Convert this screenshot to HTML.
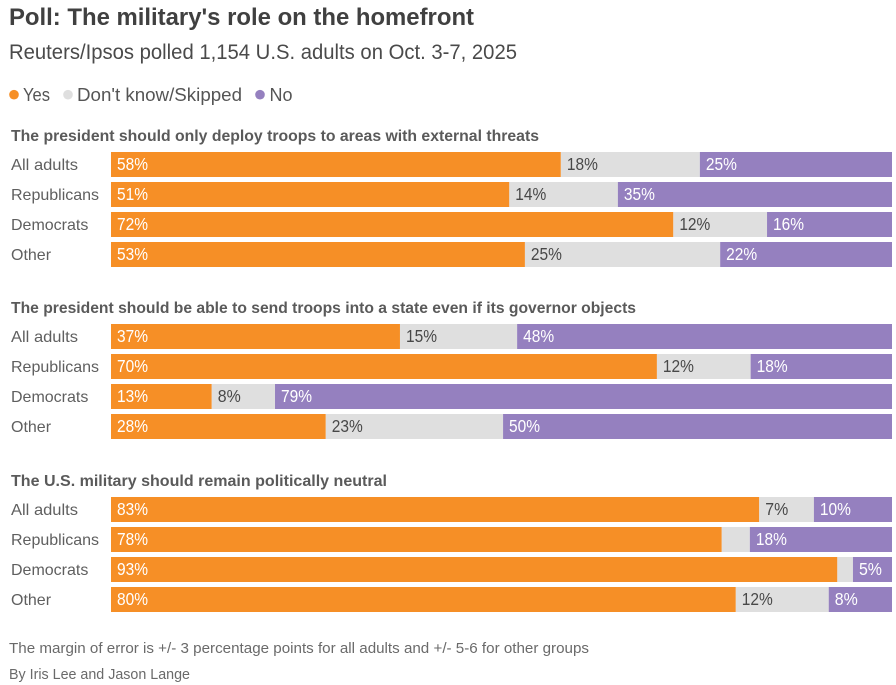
<!DOCTYPE html>
<html lang="en">
<head>
<meta charset="utf-8">
<title>Poll: The military's role on the homefront</title>
<style>
  html, body { margin: 0; padding: 0; background: #fff; }
  body { width: 896px; height: 685px; overflow: hidden; }
  svg { display: block; font-family: "Liberation Sans", sans-serif; }
</style>
</head>
<body>
<svg id="chart" width="896" height="685" viewBox="0 0 896 685" xmlns="http://www.w3.org/2000/svg">
  <text x="9" y="25" font-size="24" font-weight="700" fill="#404040" textLength="465" lengthAdjust="spacingAndGlyphs">Poll: The military's role on the homefront</text>
  <text x="9" y="59" font-size="21" fill="#4a4a4a" textLength="508" lengthAdjust="spacingAndGlyphs">Reuters/Ipsos polled 1,154 U.S. adults on Oct. 3-7, 2025</text>

  <g>
    <circle cx="14" cy="94.7" r="4.8" fill="#f68f26"></circle>
    <text x="23" y="101" font-size="18" fill="#555555" textLength="27" lengthAdjust="spacingAndGlyphs">Yes</text>
    <circle cx="68" cy="94.7" r="4.8" fill="#dfdfdf"></circle>
    <text x="77" y="101" font-size="18" fill="#555555" textLength="165" lengthAdjust="spacingAndGlyphs">Don't know/Skipped</text>
    <circle cx="260" cy="94.7" r="4.8" fill="#9580bf"></circle>
    <text x="269.5" y="101" font-size="18" fill="#555555" textLength="23" lengthAdjust="spacingAndGlyphs">No</text>
  </g>

  <text x="11" y="141" font-size="16" font-weight="700" fill="#5a5a5a" textLength="528" lengthAdjust="spacingAndGlyphs">The president should only deploy troops to areas with external threats</text>
  <text x="11" y="313" font-size="16" font-weight="700" fill="#5a5a5a" textLength="625" lengthAdjust="spacingAndGlyphs">The president should be able to send troops into a state even if its governor objects</text>
  <text x="11" y="486" font-size="16" font-weight="700" fill="#5a5a5a" textLength="376" lengthAdjust="spacingAndGlyphs">The U.S. military should remain politically neutral</text>

  <g id="bars"></g>

  <text x="9" y="653" font-size="14.5" fill="#6a6a6a" textLength="580" lengthAdjust="spacingAndGlyphs">The margin of error is +/- 3 percentage points for all adults and +/- 5-6 for other groups</text>
  <text x="9" y="679" font-size="14.5" fill="#6a6a6a" textLength="181" lengthAdjust="spacingAndGlyphs">By Iris Lee and Jason Lange</text>
</svg>
<script>
// Chart data (percent of respondents)
const categories = ['All adults', 'Republicans', 'Democrats', 'Other'];
const yesExternalThreats = [57.6, 51.0, 72.0, 53.0];
const dontKnowExternalThreats = [17.8, 13.9, 12.0, 25.0];
const noExternalThreats = [24.6, 35.1, 16.0, 22.0];
const yesGovernorObjects = [37.0, 69.9, 12.9, 27.5];
const dontKnowGovernorObjects = [15.0, 12.0, 8.1, 22.7];
const noGovernorObjects = [48.0, 18.1, 79.0, 49.8];
const yesPoliticallyNeutral = [83.0, 78.2, 93.0, 80.0];
const dontKnowPoliticallyNeutral = [7.0, 3.6, 2.0, 11.9];
const noPoliticallyNeutral = [10.0, 18.2, 5.0, 8.1];

const SVG_NS = 'http://www.w3.org/2000/svg';
const plotLeft = 111;
const plotWidth = 781;
const rowHeight = 25;
const rowPitch = 30;
const minLabelValue = 5;

function xScale(value) {
  return plotLeft + (value / 100) * plotWidth;
}

function rowTop(groupTop, rowIndex) {
  return groupTop + rowIndex * rowPitch;
}

function formatPercent(value) {
  return Math.round(value) + '%';
}

function drawSegment(parent, groupKey, seriesKey, catKey, start, value, top, fill, textFill) {
  const rect = document.createElementNS(SVG_NS, 'rect');
  
  
  rect.setAttribute('x', xScale(start));
  rect.setAttribute('y', top);
  rect.setAttribute('width', xScale(start + value) - xScale(start));
  rect.setAttribute('height', rowHeight);
  rect.setAttribute('fill', fill);
  parent.appendChild(rect);

  if (value >= minLabelValue) {
    const label = document.createElementNS(SVG_NS, 'text');
    const str = formatPercent(value);
    
    
    label.setAttribute('x', xScale(start) + 6);
    label.setAttribute('y', top + 18);
    label.setAttribute('font-size', '17.5');
    label.setAttribute('fill', textFill);
    label.setAttribute('textLength', str.length > 2 ? 31 : 23);
    label.setAttribute('lengthAdjust', 'spacingAndGlyphs');
    label.textContent = str;
    parent.appendChild(label);
  }
}

function drawGroup(groupKey, groupTop, yes, dontKnow, no) {
  const root = document.getElementById('bars');
  const g = document.createElementNS(SVG_NS, 'g');
  
  
  root.appendChild(g);

  categories.forEach(function (cat, i) {
    const top = rowTop(groupTop, i);
    const catKey = cat.toLowerCase().replace(/\s+/g, '-');

    const catLabel = document.createElementNS(SVG_NS, 'text');
    
    
    catLabel.setAttribute('x', 11);
    catLabel.setAttribute('y', top + 18);
    catLabel.setAttribute('font-size', '16');
    catLabel.setAttribute('fill', '#5f5f5f');
    if (cat === 'All adults') {
      catLabel.setAttribute('textLength', '67');
      catLabel.setAttribute('lengthAdjust', 'spacingAndGlyphs');
    }
    catLabel.textContent = cat;
    g.appendChild(catLabel);

    drawSegment(g, groupKey, 'yes', catKey, 0, yes[i], top, '#f68f26', '#ffffff');
    drawSegment(g, groupKey, 'dont-know', catKey, yes[i], dontKnow[i], top, '#dfdfdf', '#484848');
    drawSegment(g, groupKey, 'no', catKey, yes[i] + dontKnow[i], no[i], top, '#9580bf', '#ffffff');
  });
}

drawGroup('external-threats', 152, yesExternalThreats, dontKnowExternalThreats, noExternalThreats);
drawGroup('governor-objects', 324, yesGovernorObjects, dontKnowGovernorObjects, noGovernorObjects);
drawGroup('politically-neutral', 497, yesPoliticallyNeutral, dontKnowPoliticallyNeutral, noPoliticallyNeutral);
</script>
</body>
</html>
